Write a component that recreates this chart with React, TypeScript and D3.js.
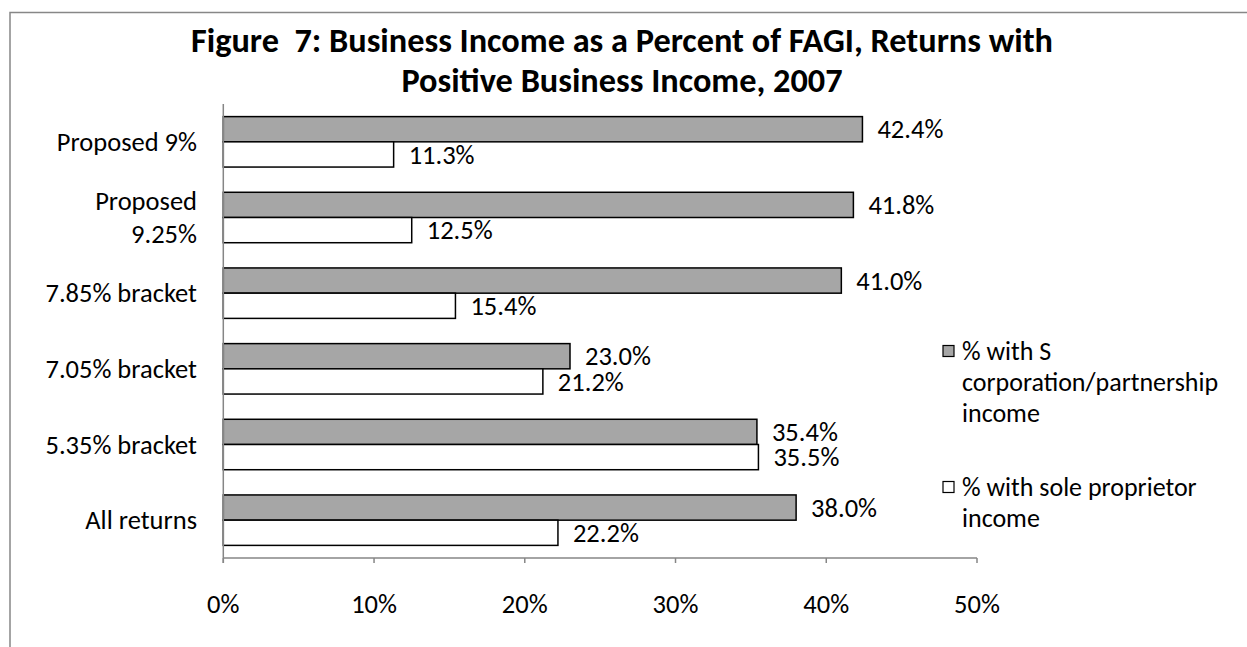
import React from "react";
import * as d3 from "d3";

const categories = ["Proposed 9%", "Proposed\n9.25%", "7.85% bracket", "7.05% bracket", "5.35% bracket", "All returns"];
const sCorpValues = [42.4, 41.8, 41.0, 23.0, 35.4, 38.0];
const soleValues = [11.3, 12.5, 15.4, 21.2, 35.5, 22.2];
const xTicks = [0, 10, 20, 30, 40, 50];
const seriesNames = [["% with S", "corporation/partnership", "income"], ["% with sole proprietor", "income"]];
const titleLines = ["Figure  7: Business Income as a Percent of FAGI, Returns with", "Positive Business Income, 2007"];

const FONT = "Carlito, Lato, 'Open Sans', sans-serif";

export default function App() {
  const W = 1247, H = 647;
  const plotLeft = 223.3, plotRight = 977, plotTop = 104, plotBottom = 558;
  const x = d3.scaleLinear().domain([0, 50]).range([plotLeft, plotRight]);
  const y = d3.scaleBand().domain(categories).range([plotTop, plotBottom]).paddingInner(0).paddingOuter(0);
  const step = y.step();
  const barH = step / 3;
  const off = step / 6;
  const fmt = (v: number) => v.toFixed(1) + "%";
  const fs = 26.5;

  return (
    <svg width={W} height={H} style={{ position: "absolute", left: 0, top: 0, background: "#fff" }} fontFamily={FONT}>
      <rect x={10} y={12.5} width={1300} height={700} fill="#fff" stroke="#878787" strokeWidth={1.5} />
      {titleLines.map((t, i) => (
        <text key={i} x={622} y={52 + i * 40} textAnchor="middle" fontWeight="bold" fontSize={34.3} fill="#000" style={{ whiteSpace: "pre" }}>{t}</text>
      ))}
      {/* bars */}
      {categories.map((c, i) => {
        const y0 = (y(c) as number) + off;
        return (
          <g key={c}>
            <rect x={x(0)} y={y0} width={x(sCorpValues[i]) - x(0)} height={barH} fill="#a6a6a6" stroke="#000" strokeWidth={1.5} />
            <rect x={x(0)} y={y0 + barH} width={x(soleValues[i]) - x(0)} height={barH} fill="#fff" stroke="#000" strokeWidth={1.5} />
            <text x={x(sCorpValues[i]) + 15} y={y0 + barH / 2} dy="0.35em" fontSize={fs} fill="#000">{fmt(sCorpValues[i])}</text>
            <text x={x(soleValues[i]) + 15} y={y0 + barH * 1.5} dy="0.35em" fontSize={fs} fill="#000">{fmt(soleValues[i])}</text>
          </g>
        );
      })}
      {/* axes */}
      <line x1={plotLeft} x2={plotLeft} y1={plotTop} y2={plotBottom + 5} stroke="#868686" strokeWidth={1.5} />
      <line x1={plotLeft} x2={plotRight} y1={plotBottom} y2={plotBottom} stroke="#868686" strokeWidth={1.5} />
      {xTicks.map((t) => (
        <g key={t}>
          <line x1={x(t)} x2={x(t)} y1={plotBottom} y2={plotBottom + 5} stroke="#868686" strokeWidth={1.5} />
          <text x={x(t)} y={604} dy="0.35em" textAnchor="middle" fontSize={fs} fill="#000">{t + "%"}</text>
        </g>
      ))}
      {categories.map((c) => {
        const lines = c.split("\n");
        const cy = (y(c) as number) + step / 2;
        return (
          <text key={c} x={197} y={cy} textAnchor="end" fontSize={fs} fill="#000">
            {lines.map((l, j) => (
              <tspan key={j} x={197} y={cy + (j - (lines.length - 1) / 2) * 33} dy="0.35em">{l}</tspan>
            ))}
          </text>
        );
      })}
      {/* legend */}
      {seriesNames.map((lines, i) => {
        const top = i === 0 ? 351 : 487;
        return (
          <g key={i}>
            <rect x={943} y={top - 5.5} width={11} height={11} fill={i === 0 ? "#a6a6a6" : "#fff"} stroke="#000" strokeWidth={1.2} />
            {lines.map((l, j) => (
              <text key={j} x={962} y={top + j * 31} dy="0.35em" fontSize={26} fill="#000">{l}</text>
            ))}
          </g>
        );
      })}
    </svg>
  );
}
